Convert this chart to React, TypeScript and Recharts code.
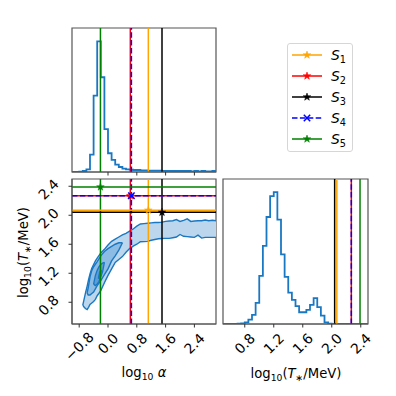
import React from "react";
import {
  ComposedChart,
  Line,
  Area,
  Scatter,
  XAxis,
  YAxis,
  ReferenceLine,
  ReferenceArea,
} from "recharts";

const FONT = "'DejaVu Sans', sans-serif";
const FS = 13.9;
const LABEL_FS = 13.2;
const BLUE = "#1a78c2";
const FRAME = "#555";

// log10 alpha histogram (bin edges + counts)
const ALPHA_EDGES = [
  -1.0, -0.9, -0.8, -0.7, -0.6, -0.5, -0.4, -0.3, -0.2, -0.1, 0.0, 0.1, 0.2, 0.3,
  0.4, 0.5, 0.6, 0.7, 0.8, 0.9, 1.0, 1.1, 1.2, 1.3, 1.4, 1.5, 1.6, 1.7, 1.8, 1.9,
  2.0, 2.1, 2.2, 2.3, 2.4, 2.5, 2.6, 2.7, 2.8, 2.9, 3.0,
];
const ALPHA_COUNTS = [
  0, 0, 1, 3, 8, 52, 228, 390, 283, 128, 56, 36, 22, 15, 10, 8, 7, 6, 6, 5, 5, 4,
  4, 4, 4, 3, 3, 3, 3, 3, 3, 3, 3, 2, 3, 2, 3, 2, 2, 3,
];

// log10 T histogram
const T_EDGES = [
  0.5, 0.55, 0.6, 0.65, 0.7, 0.75, 0.8, 0.85, 0.9, 0.95, 1.0, 1.05, 1.1, 1.15,
  1.2, 1.25, 1.3, 1.35, 1.4, 1.45, 1.5, 1.55, 1.6, 1.65, 1.7, 1.75, 1.8, 1.85,
  1.9, 1.95, 2.0, 2.05, 2.1, 2.15, 2.2, 2.25, 2.3, 2.35, 2.4, 2.45, 2.5,
];
const T_COUNTS = [
  0, 0, 0, 0, 1, 2, 5, 13, 27, 63, 143, 232, 318, 380, 392, 310, 207, 140, 93,
  72, 53, 35, 35, 42, 57, 77, 50, 25, 5, 1, 0, 0, 0, 0, 0, 0, 0, 0, 0, 0,
];

// 2D contour levels: alpha grid, lower / upper T
const OUTER_A = [
  -0.7, -0.66, -0.62, -0.58, -0.54, -0.5, -0.45, -0.4, -0.35, -0.3, -0.2, -0.1,
  0.0, 0.1, 0.2, 0.3, 0.4, 0.5, 0.6, 0.7, 0.8, 0.9, 1.0, 1.1, 1.2, 1.3, 1.4, 1.5,
  1.6, 1.7, 1.8, 1.9, 2.0, 2.1, 2.2, 2.3, 2.4, 2.5, 2.6, 2.7, 2.8, 2.9, 3.0,
];
const OUTER_HI = [
  0.76, 0.85, 0.94, 1.02, 1.11, 1.19, 1.27, 1.32, 1.37, 1.41, 1.48, 1.53, 1.59,
  1.64, 1.67, 1.7, 1.73, 1.75, 1.78, 1.81, 1.85, 1.88, 1.885, 1.89, 1.895, 1.9,
  1.9, 1.905, 1.915, 1.92, 1.925, 1.94, 1.915, 1.93, 1.95, 1.915, 1.92, 1.925,
  1.925, 1.935, 1.925, 1.93, 1.925,
];
const OUTER_LO = [
  0.76, 0.73, 0.71, 0.7, 0.73, 0.77, 0.79, 0.81, 0.84, 0.89, 0.96, 1.07, 1.17,
  1.26, 1.35, 1.39, 1.43, 1.49, 1.54, 1.575, 1.6, 1.635, 1.636, 1.64, 1.655,
  1.665, 1.675, 1.68, 1.681, 1.681, 1.69, 1.7, 1.735, 1.71, 1.705, 1.7, 1.695,
  1.725, 1.685, 1.695, 1.695, 1.695, 1.695,
];
const MID_A = [-0.58, -0.55, -0.5, -0.45, -0.4, -0.3, -0.2, -0.1, 0.0, 0.1, 0.2, 0.3, 0.4];
const MID_HI = [0.93, 1.0, 1.15, 1.24, 1.29, 1.36, 1.44, 1.5, 1.54, 1.57, 1.6, 1.62, 1.62];
const MID_LO = [0.93, 0.9, 0.9, 0.92, 0.94, 1.03, 1.1, 1.18, 1.26, 1.37, 1.44, 1.52, 1.62];
const INNER_A = [-0.4, -0.35, -0.3, -0.25, -0.2, -0.15, -0.1];
const INNER_HI = [1.05, 1.17, 1.24, 1.29, 1.32, 1.34, 1.35];
const INNER_LO = [1.05, 1.03, 1.05, 1.09, 1.15, 1.22, 1.35];
const CORE_A = [-0.27, -0.24, -0.21, -0.18];
const CORE_HI = [1.13, 1.21, 1.24, 1.24];
const CORE_LO = [1.13, 1.12, 1.16, 1.24];

// benchmark points S1..S5
const SERIES_SUB = ["1", "2", "3", "4", "5"];
const SERIES_ALPHA = [1.12, 0.62, 1.5, 0.65, -0.21];
const SERIES_T = [2.07, 2.27, 2.04, 2.27, 2.39];
const SERIES_COLORS = ["#FFA500", "#FF0000", "#000000", "#0000FF", "#008000"];
const SERIES_DASH = [undefined, undefined, undefined, "5.5 2.4", undefined];
const SERIES_MARK = ["star", "star", "star", "x", "star"];

const ALPHA_TICKS = [-0.8, 0, 0.8, 1.6, 2.4];
const T_TICKS = [0.8, 1.2, 1.6, 2.0, 2.4];

const stepData = (edges: number[], counts: number[]) => [
  { a: edges[0], n: 0 },
  ...edges.map((e, i) => ({ a: e, n: counts[Math.min(i, counts.length - 1)] })),
  { a: edges[edges.length - 1], n: 0 },
];
const rangeData = (xs: number[], lo: number[], hi: number[]) =>
  xs.map((a, i) => ({ a, t: [lo[i], hi[i]] }));

const GLYPH: Record<string, number> = { "−": 0.6, ".": 0.318 };
const textW = (s: string) =>
  s.split("").reduce((w, c) => w + (GLYPH[c] ?? 0.636), 0) * FS;
const fmt = (v: number) => (v < 0 ? "−" : "") + Math.abs(v).toFixed(1);

function XTick(props: any) {
  const { x, y, payload } = props;
  const label = fmt(payload.value);
  const cy = y + (textW(label) + 0.73 * FS) * 0.3536 + 2.5;
  return (
    <text
      x={x}
      y={cy}
      dy="0.36em"
      textAnchor="middle"
      transform={`rotate(-45 ${x} ${cy})`}
      fontFamily={FONT}
      fontSize={FS}
      fill="#000"
    >
      {label}
    </text>
  );
}

function YTick(props: any) {
  const { x, y, payload } = props;
  const label = fmt(payload.value);
  const cx = x - 18;
  const cy = y + 3;
  return (
    <text
      x={cx}
      y={cy}
      dy="0.36em"
      textAnchor="middle"
      transform={`rotate(-45 ${cx} ${cy})`}
      fontFamily={FONT}
      fontSize={FS}
      fill="#000"
    >
      {label}
    </text>
  );
}

function Marker({ cx, cy, kind, color }: any) {
  if (kind === "x") {
    const r = 3.2;
    return (
      <path
        d={`M${cx - r},${cy - r}L${cx + r},${cy + r}M${cx - r},${cy + r}L${cx + r},${cy - r}`}
        stroke={color}
        strokeWidth={1.5}
      />
    );
  }
  const pts: string[] = [];
  for (let k = 0; k < 10; k++) {
    const r = k % 2 === 0 ? 4 : 1.6;
    const ang = -Math.PI / 2 + (k * Math.PI) / 5;
    pts.push(`${cx + r * Math.cos(ang)},${cy + r * Math.sin(ang)}`);
  }
  return <polygon points={pts.join(" ")} fill={color} stroke={color} strokeWidth={0.5} />;
}

const noTick = () => <g />;

function AlphaHist() {
  return (
    <ComposedChart width={159} height={164} margin={{ top: 10, right: 10, bottom: 0, left: 5 }}>
      <XAxis
        type="number"
        dataKey="a"
        domain={[-1, 3]}
        ticks={ALPHA_TICKS}
        tick={noTick}
        tickSize={3.5}
        height={10}
        axisLine={{ stroke: FRAME }}
        tickLine={{ stroke: "#333" }}
        allowDataOverflow
      />
      <YAxis type="number" domain={[0, 430]} hide allowDataOverflow />
      <ReferenceArea x1={-1} x2={3} y1={0} y2={430} fill="none" stroke={FRAME} strokeWidth={1.2} />
      <Line
        data={stepData(ALPHA_EDGES, ALPHA_COUNTS)}
        dataKey="n"
        type="stepAfter"
        stroke={BLUE}
        strokeWidth={1.8}
        dot={false}
        activeDot={false}
        isAnimationActive={false}
      />
      {SERIES_ALPHA.map((v, i) => (
        <ReferenceLine
          key={i}
          x={v}
          stroke={SERIES_COLORS[i]}
          strokeWidth={1.5}
          strokeDasharray={SERIES_DASH[i]}
        />
      ))}
    </ComposedChart>
  );
}

function JointPanel() {
  return (
    <ComposedChart width={226} height={215} margin={{ top: 10, right: 10, bottom: 0, left: 0 }}>
      <XAxis
        type="number"
        dataKey="a"
        domain={[-1, 3]}
        ticks={ALPHA_TICKS}
        tick={<XTick />}
        tickSize={3.5}
        height={60}
        axisLine={{ stroke: FRAME }}
        tickLine={{ stroke: "#333" }}
        allowDataOverflow
      />
      <YAxis
        type="number"
        domain={[0.5, 2.5]}
        ticks={T_TICKS}
        tick={<YTick />}
        tickSize={3.5}
        width={72}
        axisLine={{ stroke: FRAME }}
        tickLine={{ stroke: "#333" }}
        allowDataOverflow
      />
      <ReferenceArea x1={-1} x2={3} y1={0.5} y2={2.5} fill="none" stroke={FRAME} strokeWidth={1.2} />
      <Area
        data={rangeData(OUTER_A, OUTER_LO, OUTER_HI)}
        dataKey="t"
        type="linear"
        fill="#bcd7ed"
        fillOpacity={1}
        stroke={BLUE}
        strokeWidth={1.4}
        dot={false}
        activeDot={false}
        isAnimationActive={false}
      />
      <Area
        data={rangeData(MID_A, MID_LO, MID_HI)}
        dataKey="t"
        type="linear"
        fill="#8cbbe3"
        fillOpacity={1}
        stroke={BLUE}
        strokeWidth={1.4}
        dot={false}
        activeDot={false}
        isAnimationActive={false}
      />
      <Area
        data={rangeData(INNER_A, INNER_LO, INNER_HI)}
        dataKey="t"
        type="linear"
        fill="#5c9dd6"
        fillOpacity={1}
        stroke={BLUE}
        strokeWidth={1.3}
        dot={false}
        activeDot={false}
        isAnimationActive={false}
      />
      <Area
        data={rangeData(CORE_A, CORE_LO, CORE_HI)}
        dataKey="t"
        type="linear"
        fill="#2e7ec6"
        fillOpacity={1}
        stroke={BLUE}
        strokeWidth={1}
        dot={false}
        activeDot={false}
        isAnimationActive={false}
      />
      {SERIES_ALPHA.map((v, i) => (
        <ReferenceLine
          key={"x" + i}
          x={v}
          stroke={SERIES_COLORS[i]}
          strokeWidth={1.5}
          strokeDasharray={SERIES_DASH[i]}
        />
      ))}
      {SERIES_T.map((v, i) => (
        <ReferenceLine
          key={"y" + i}
          y={v}
          stroke={SERIES_COLORS[i]}
          strokeWidth={1.5}
          strokeDasharray={SERIES_DASH[i]}
        />
      ))}
      {SERIES_ALPHA.map((v, i) => (
        <Scatter
          key={"m" + i}
          data={[{ a: v, t: SERIES_T[i] }]}
          dataKey="t"
          isAnimationActive={false}
          shape={(p: any) => <Marker cx={p.cx} cy={p.cy} kind={SERIES_MARK[i]} color={SERIES_COLORS[i]} />}
        />
      ))}
    </ComposedChart>
  );
}

function THist() {
  return (
    <ComposedChart width={160} height={215} margin={{ top: 10, right: 10, bottom: 0, left: 5 }}>
      <XAxis
        type="number"
        dataKey="a"
        domain={[0.5, 2.5]}
        ticks={T_TICKS}
        tick={<XTick />}
        tickSize={3.5}
        height={60}
        axisLine={{ stroke: FRAME }}
        tickLine={{ stroke: "#333" }}
        allowDataOverflow
      />
      <YAxis type="number" domain={[0, 431]} hide allowDataOverflow />
      <ReferenceArea x1={0.5} x2={2.5} y1={0} y2={431} fill="none" stroke={FRAME} strokeWidth={1.2} />
      <Line
        data={stepData(T_EDGES, T_COUNTS)}
        dataKey="n"
        type="stepAfter"
        stroke={BLUE}
        strokeWidth={1.8}
        dot={false}
        activeDot={false}
        isAnimationActive={false}
      />
      {SERIES_T.map((v, i) => (
        <ReferenceLine
          key={i}
          x={v}
          stroke={SERIES_COLORS[i]}
          strokeWidth={1.5}
          strokeDasharray={SERIES_DASH[i]}
        />
      ))}
    </ComposedChart>
  );
}

const sub = { fontSize: "0.7em", position: "relative" as const, top: "0.3em" };

function Legend() {
  return (
    <div
      style={{
        position: "absolute",
        left: 287,
        top: 43,
        width: 66,
        height: 109,
        border: "1px solid #d6d6d6",
        borderRadius: 3,
        background: "#fff",
        boxSizing: "border-box",
      }}
    >
      {SERIES_SUB.map((s, i) => (
        <div key={s} style={{ position: "absolute", left: 0, top: 2 + i * 21, height: 18, width: 64 }}>
          <svg width={34} height={18} style={{ position: "absolute", left: 3, top: 0 }}>
            <line
              x1={1}
              x2={31}
              y1={9}
              y2={9}
              stroke={SERIES_COLORS[i]}
              strokeWidth={1.5}
              strokeDasharray={SERIES_DASH[i]}
            />
            <Marker cx={16} cy={9} kind={SERIES_MARK[i]} color={SERIES_COLORS[i]} />
          </svg>
          <span
            style={{
              position: "absolute",
              left: 43,
              top: 0,
              fontFamily: FONT,
              fontSize: FS,
              fontStyle: "italic",
              lineHeight: "18px",
              whiteSpace: "nowrap",
            }}
          >
            S<span style={{ ...sub, fontStyle: "normal" }}>{s}</span>
          </span>
        </div>
      ))}
    </div>
  );
}

export default function App() {
  const label = {
    position: "absolute" as const,
    fontFamily: FONT,
    fontSize: LABEL_FS,
    whiteSpace: "nowrap" as const,
    lineHeight: "16px",
  };
  return (
    <div style={{ position: "absolute", left: 0, top: 0, width: 396, height: 396, background: "#fff", overflow: "hidden" }}>
      <div style={{ position: "absolute", left: 67, top: 18 }}>
        <AlphaHist />
      </div>
      <div style={{ position: "absolute", left: 0, top: 169 }}>
        <JointPanel />
      </div>
      <div style={{ position: "absolute", left: 218, top: 169 }}>
        <THist />
      </div>
      <Legend />
      <div style={{ ...label, left: 94, width: 100, top: 365, textAlign: "center" }}>
        log<span style={sub}>10</span> <i>α</i>
      </div>
      <div style={{ ...label, left: 236, width: 120, top: 366, textAlign: "center" }}>
        log<span style={sub}>10</span>(<i>T</i>
        <span style={sub}>∗</span>/MeV)
      </div>
      <div
        style={{
          ...label,
          left: -36,
          width: 120,
          top: 244,
          textAlign: "center",
          transform: "rotate(-90deg)",
        }}
      >
        log<span style={sub}>10</span>(<i>T</i>
        <span style={sub}>∗</span>/MeV)
      </div>
    </div>
  );
}
